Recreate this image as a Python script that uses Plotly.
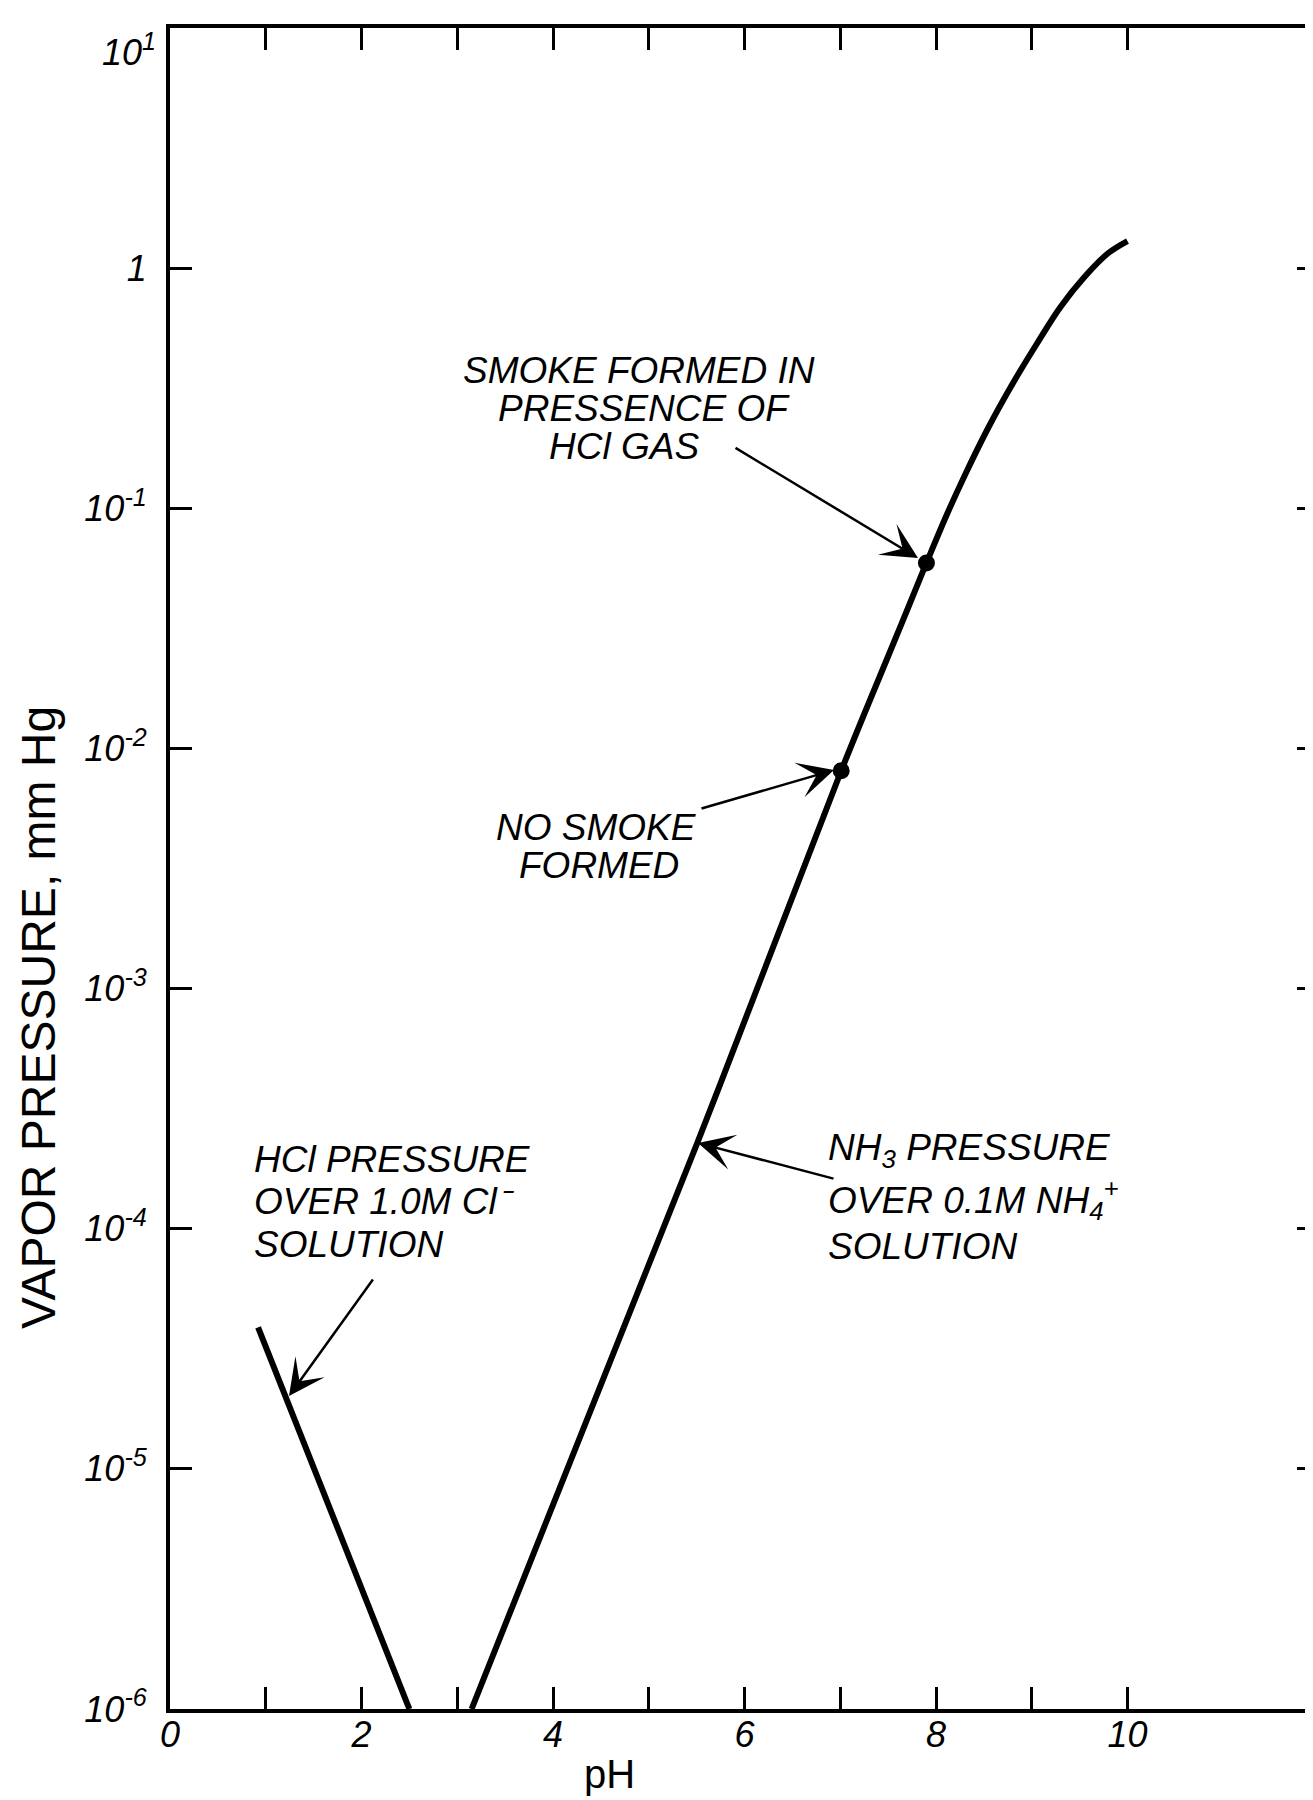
import plotly.graph_objects as go

# ---- data ----
# NH3 pressure over 0.1 M NH4+ solution (pH, mm Hg)
nh3_ph = [3.15, 5.50, 7.01, 7.50, 7.70, 7.90, 8.10, 8.30, 8.55, 8.80, 9.05, 9.30, 9.55, 9.80, 10.0]
nh3_p = [1.0e-6, 2.24e-4, 8.07e-3, 0.0242, 0.0378, 0.0592, 0.0916, 0.137, 0.218, 0.330, 0.482,
         0.689, 0.918, 1.156, 1.297]

# HCl pressure over 1.0 M Cl- solution
hcl_ph = [0.92, 2.50]
hcl_p = [3.88e-5, 1.0e-6]

# marked experimental points
dot_ph = [7.01, 7.90]
dot_p = [8.07e-3, 0.0592]

x_tickvals = [0, 2, 4, 6, 8, 10]
x_ticktext = ["0", "2", "4", "6", "8", "10"]
y_tickvals = [1e-6, 1e-5, 1e-4, 1e-3, 1e-2, 1e-1, 1]
y_ticktext = ["10<sup>-6</sup>", "10<sup>-5</sup>", "10<sup>-4</sup>", "10<sup>-3</sup>",
              "10<sup>-2</sup>", "10<sup>-1</sup>", "1"]
y_top_label = "10<sup>1</sup>"

# ---- layout geometry ----
W, H = 1313, 1800
L, R, T, B = 162, 2, 20, 99
XMIN, XMAX = 0, 12
YMIN, YMAX = -6, 1
pw, ph_ = W - L - R, H - T - B


def ax_x(px):
    return XMIN + (px - L) / pw * (XMAX - XMIN)


def ax_y(py):
    return YMAX - (py - T) / ph_ * (YMAX - YMIN)


FONT = "Liberation Sans"
fig = go.Figure()

fig.add_trace(go.Scatter(x=nh3_ph, y=nh3_p, mode="lines",
                         line=dict(color="black", width=6, shape="spline", smoothing=1.0),
                         showlegend=False, hoverinfo="skip"))
fig.add_trace(go.Scatter(x=hcl_ph, y=hcl_p, mode="lines",
                         line=dict(color="black", width=6),
                         showlegend=False, hoverinfo="skip"))
fig.add_trace(go.Scatter(x=dot_ph, y=dot_p, mode="markers",
                         marker=dict(color="black", size=17),
                         showlegend=False, hoverinfo="skip"))

annotations = []
lab_font = dict(family=FONT, size=37, color="black", style="italic")

text_lines = [
    ("SMOKE FORMED IN", 631, 362, "center"),
    ("PRESSENCE OF", 636, 400, "center"),
    ("HCl GAS", 616, 438, "center"),
    ("NO SMOKE", 588, 819, "center"),
    ("FORMED", 591, 857, "center"),
    ("HCl PRESSURE", 244, 1151, "left"),
    ("OVER 1.0M Cl⁻", 244, 1193, "left"),
    ("SOLUTION", 244, 1236, "left"),
    ("NH<sub>3</sub> PRESSURE", 818, 1142, "left"),
    ("OVER 0.1M NH<sub>4</sub><sup>+</sup>", 818, 1191, "left"),
    ("SOLUTION", 818, 1238, "left"),
]
for txt, px, py, anc in text_lines:
    annotations.append(dict(text=txt, x=ax_x(px), y=ax_y(py), xref="x", yref="y",
                            xanchor=anc, yanchor="middle", showarrow=False, font=lab_font))

arrows = [
    # (tail px, tail py, tip px, tip py)
    (726, 439, 910, 550),
    (692, 801, 826, 762),
    (827, 1171, 690, 1135),
    (366, 1270, 281, 1388),
]
for tx, ty, hx, hy in arrows:
    annotations.append(dict(text="", x=ax_x(hx), y=ax_y(hy), xref="x", yref="y",
                            ax=ax_x(tx), ay=ax_y(ty), axref="x", ayref="y",
                            showarrow=True, arrowhead=3, arrowsize=2.4, arrowwidth=2.5,
                            arrowcolor="black", standoff=0))

tick_font = dict(family=FONT, size=36, color="black", style="italic")

# top y label (lettered just below the corner in the original)
annotations.append(dict(text=y_top_label, x=0, y=1, xref="paper", yref="paper",
                        xanchor="right", yanchor="middle", xshift=-12, yshift=-22,
                        showarrow=False, font=tick_font))

# axis titles
annotations.append(dict(text="VAPOR PRESSURE, mm Hg", x=(30 - L) / pw, y=(H - B - 1010) / ph_,
                        xref="paper", yref="paper", textangle=-90, showarrow=False,
                        xanchor="center", yanchor="middle",
                        font=dict(family=FONT, size=48, color="black")))
annotations.append(dict(text="pH", x=(601 - L) / pw, y=(H - B - 1766) / ph_,
                        xref="paper", yref="paper", showarrow=False,
                        xanchor="center", yanchor="middle",
                        font=dict(family=FONT, size=40, color="black")))

fig.update_layout(
    width=W, height=H,
    margin=dict(l=L, r=R, t=T, b=B, autoexpand=False),
    paper_bgcolor="white", plot_bgcolor="white",
    annotations=annotations,
    xaxis=dict(range=[XMIN, XMAX], tickvals=x_tickvals, ticktext=x_ticktext,
               ticks="inside", ticklen=22, tickwidth=3, tickcolor="black",
               minor=dict(tickvals=[1, 3, 5, 7, 9], ticks="inside", ticklen=22,
                          tickwidth=3, tickcolor="black", showgrid=False),
               showline=True, linecolor="black", linewidth=4, mirror="ticks",
               showgrid=False, zeroline=False, tickfont=tick_font, ticklabelstandoff=-9),
    yaxis=dict(type="log", range=[YMIN, YMAX], tickvals=y_tickvals, ticktext=y_ticktext,
               ticks="inside", ticklen=22, tickwidth=3, tickcolor="black",
               showline=True, linecolor="black", linewidth=4, mirror="ticks",
               showgrid=False, zeroline=False, tickfont=tick_font, ticklabelstandoff=12),
)

fig.write_html("out.html")
